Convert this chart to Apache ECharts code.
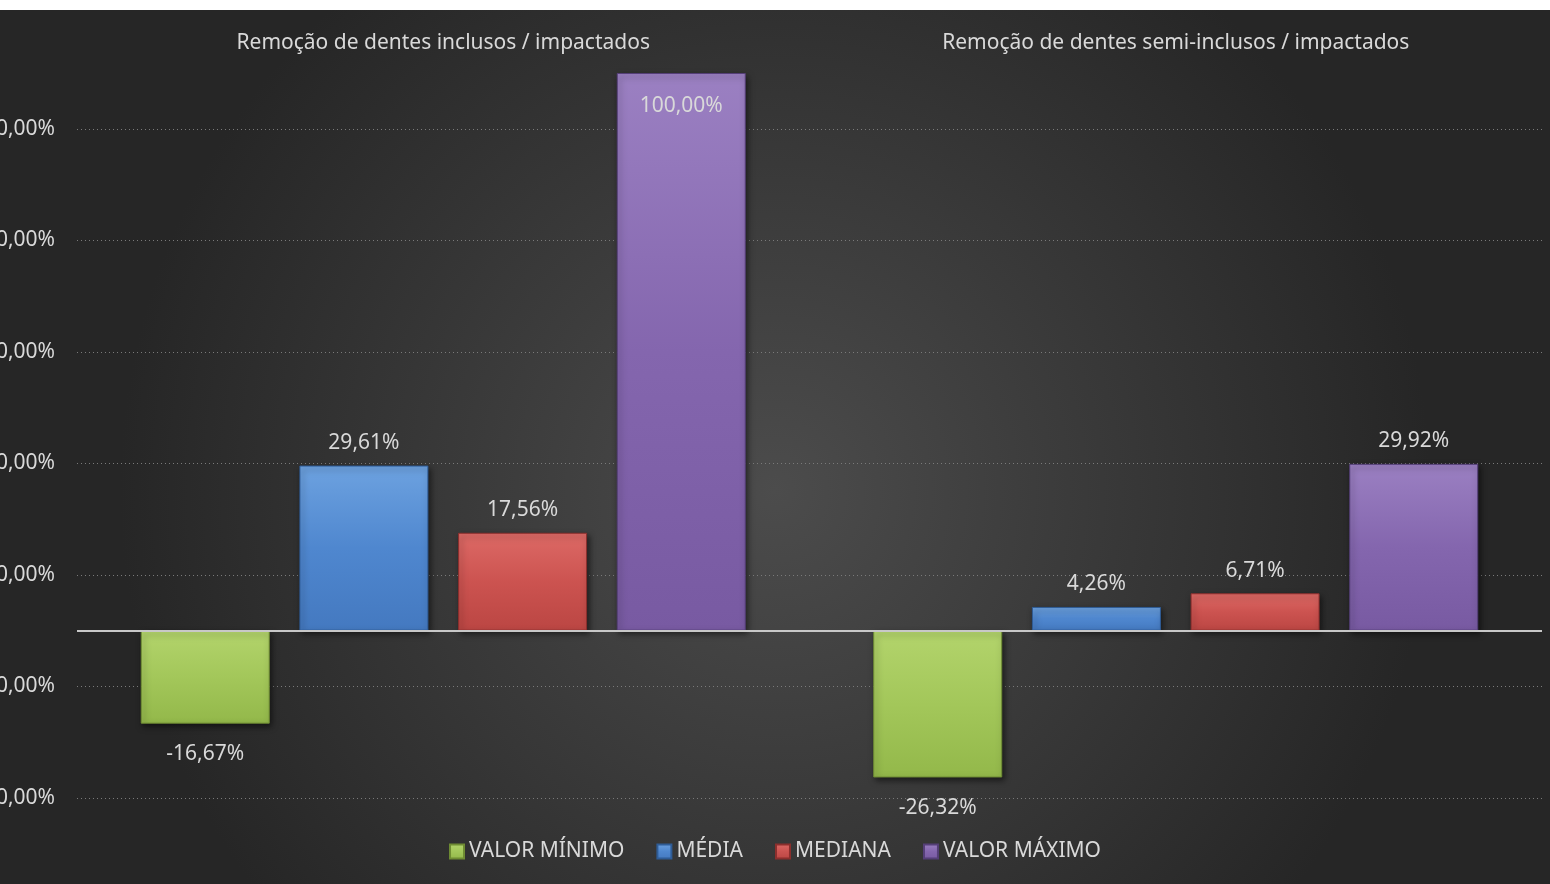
<!DOCTYPE html>
<html>
<head>
<meta charset="utf-8">
<script src="https://cdn.jsdelivr.net/npm/echarts@6/dist/echarts.min.js"></script>
<style>
html,body{margin:0;padding:0;background:#ffffff;}
#chart{position:absolute;left:0;top:10px;width:1550px;height:874px;}
</style>
</head>
<body>
<div id="chart"></div>
<script>
const categories = ['Remoção de dentes inclusos / impactados', 'Remoção de dentes semi-inclusos / impactados'];
const seriesNames = ['VALOR MÍNIMO', 'MÉDIA', 'MEDIANA', 'VALOR MÁXIMO'];
const valorMinimo = [-0.1667, -0.2632];
const media = [0.2961, 0.0426];
const mediana = [0.1756, 0.0671];
const valorMaximo = [1.0000, 0.2992];
const yMin = -0.3, yMax = 1.0, yInterval = 0.2;

const palettes = [
  {top:'#b3d46c', main:'#a3c75a', bottom:'#93b84a', border:'#6f8c33'},
  {top:'#6da2e0', main:'#4f87cf', bottom:'#4479c0', border:'#2f5c96'},
  {top:'#dd6a66', main:'#cc5350', bottom:'#bb4643', border:'#8c2f2d'},
  {top:'#9b80c2', main:'#8466ae', bottom:'#785aa2', border:'#553f78'}
];
const allValues = [valorMinimo, media, mediana, valorMaximo];

function pct(v){ return (Math.round(v*10000)/100).toFixed(2).replace('.', ',') + '%'; }

const series = allValues.map((vals, i) => {
  const p = palettes[i];
  return {
    name: seriesNames[i],
    type: 'bar',
    barWidth: 129,
    barGap: '23%',
    itemStyle: {
      color: new echarts.graphic.LinearGradient(0,0,0,1,[
        {offset:0, color:p.top},{offset:0.5, color:p.main},{offset:1, color:p.bottom}
      ]),
      borderColor: p.border,
      borderWidth: 1,
      shadowColor: 'rgba(0,0,0,0.55)',
      shadowBlur: 6,
      shadowOffsetX: 2,
      shadowOffsetY: 3
    },
    label: {
      show: true,
      color: '#d9d9d9',
      fontSize: 21,
      fontFamily: 'Noto Sans',
      formatter: (prm) => pct(prm.value)
    },
    data: vals.map(v => {
      let pos = v < 0 ? 'bottom' : 'top';
      let dist = v < 0 ? 20 : 12;
      if (v >= 0.95) { pos = 'insideTop'; dist = 23; }
      return { value: v, label: { position: pos, distance: dist } };
    }),
    markLine: i === 0 ? {
      silent: true, symbol: 'none', z: 10,
      label: {show:false},
      lineStyle: {color:'#c8c8c8', width: 2, type: 'solid'},
      data: [{yAxis: 0}]
    } : undefined
  };
});

const chart = echarts.init(document.getElementById('chart'));
chart.setOption({
  backgroundColor: {
    type: 'radial', x: 0.5, y: 0.55, r: 0.75,
    colorStops: [{offset:0, color:'#4c4c4c'}, {offset:1, color:'#262626'}]
  },
  textStyle: {fontFamily: 'Noto Sans'},
  animation: false,
  grid: {left: 77, right: 8, top: 63, bottom: 86, containLabel: false, outerBoundsMode: 'none'},
  legend: {
    top: 826, left: 'center',
    icon: 'rect', itemWidth: 14, itemHeight: 14, itemGap: 32,
    textStyle: {color:'#d9d9d9', fontSize: 21, fontFamily:'Noto Sans'},
    data: seriesNames
  },
  xAxis: {
    type: 'category',
    position: 'top',
    data: categories,
    axisLine: {show:false, onZero:false},
    axisTick: {show:false},
    axisLabel: {color:'#d9d9d9', fontSize: 21, margin: 19, fontFamily:'Noto Sans'}
  },
  yAxis: {
    type: 'value',
    min: yMin, max: yMax, interval: yInterval,
    axisLine: {show:false},
    axisTick: {show:false},
    axisLabel: {color:'#d9d9d9', fontSize: 21, margin: 22, showMaxLabel:false, fontFamily:'Noto Sans',
      formatter: (v) => pct(v)},
    splitLine: {show:true, showMaxLine:false, lineStyle:{color:'#7a7a7a', type:[1,3], width:1}}
  },
  series: series
});
</script>
</body>
</html>
